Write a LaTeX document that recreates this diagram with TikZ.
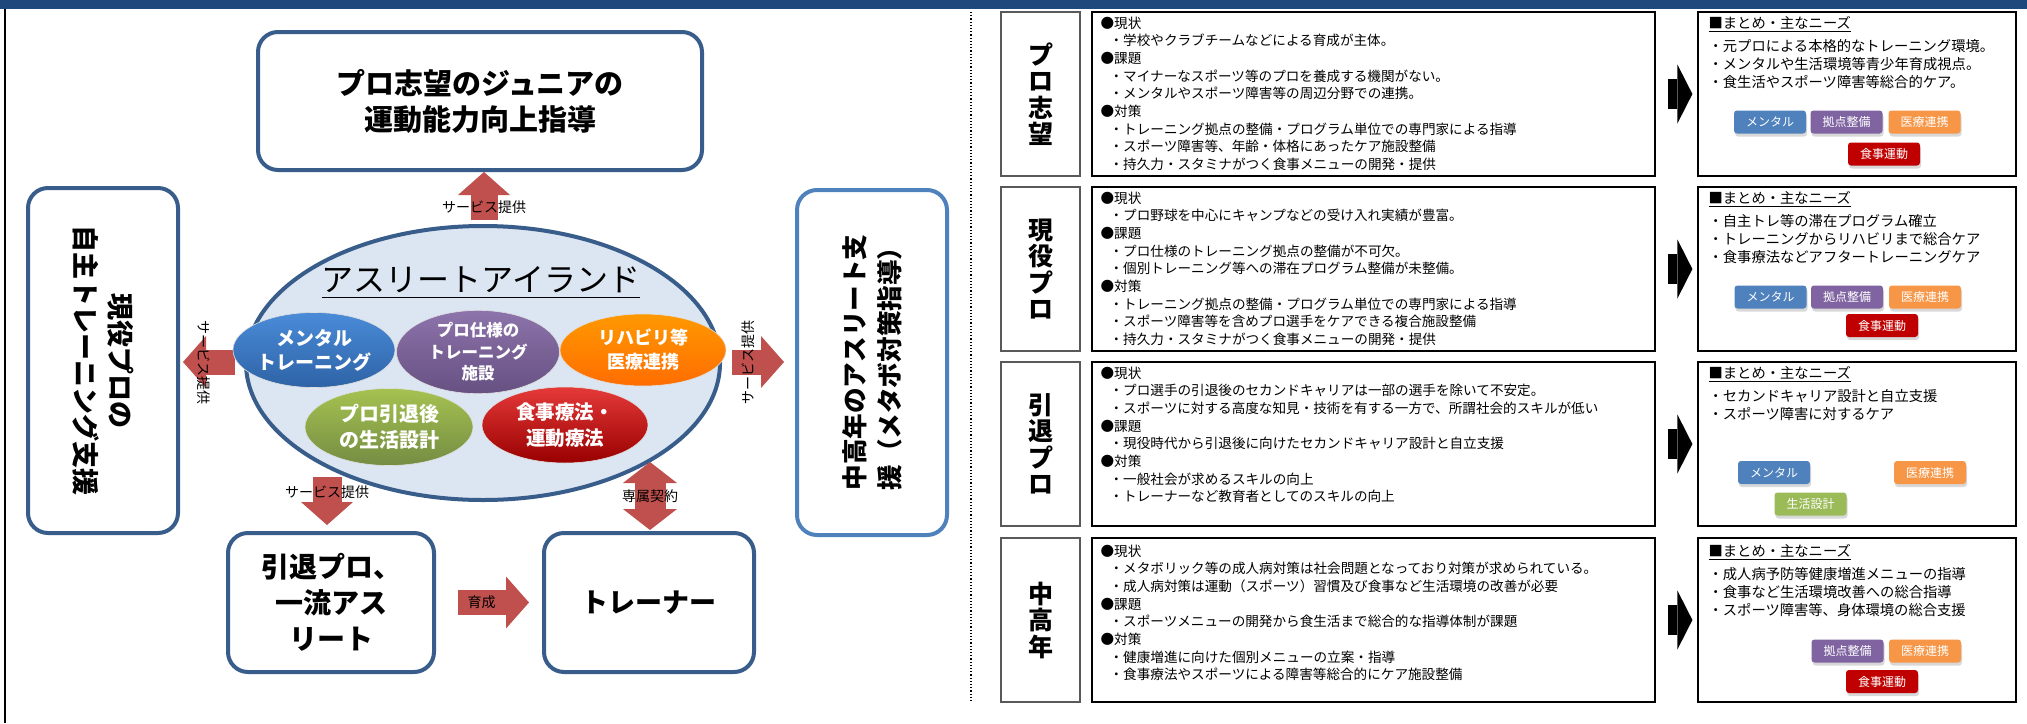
\documentclass[tikz,border=0pt]{standalone}
\usepackage{fontspec}
\setmainfont{Noto Sans CJK JP}
\usetikzlibrary{shapes.geometric,arrows.meta,shadows}

\definecolor{barblue}{HTML}{1F497D}
\definecolor{boxblue}{HTML}{385D8A}
\definecolor{lineblue}{HTML}{4F81BD}
\definecolor{islandfill}{HTML}{DCE6F2}
\definecolor{arrowred}{HTML}{C0504D}
\definecolor{tagblue}{HTML}{4F81BD}
\definecolor{tagpurple}{HTML}{8064A2}
\definecolor{tagorange}{HTML}{F79646}
\definecolor{tagred}{HTML}{C00000}
\definecolor{taggreen}{HTML}{9BBB59}
\definecolor{mentaltop}{HTML}{4A8BD8}
\definecolor{mentalbot}{HTML}{2E63A6}

\newcommand{\itm}{\hspace*{9pt}}

\tikzset{
  roundbox/.style={draw=boxblue, line width=4pt, rounded corners=20pt, fill=white, align=center, inner sep=0pt},
  bubble/.style={ellipse, draw=white!75!gray, line width=0.6pt, text=white, align=center, inner sep=0pt},
  redarrow/.style={draw=arrowred, line width=27pt, -{Triangle[width=52pt,length=23pt,line width=0pt]}},
  redboth/.style={draw=arrowred, line width=31pt, {Triangle[width=54pt,length=21pt,line width=0pt]}-{Triangle[width=54pt,length=21pt,line width=0pt]}},
  blackarrow/.style={draw=black, line width=30pt, -{Triangle[width=59pt,length=15pt,line width=0pt]}},
  svclabel/.style={text=black, inner sep=0pt, font=\fontsize{14}{14}\selectfont},
  labbox/.style={draw=black!65, line width=1.5pt, minimum width=79pt, minimum height=164pt},
  infobox/.style={draw=black, line width=1.2pt, minimum width=563pt, minimum height=164pt},
  sumbox/.style={draw=black, line width=1.2pt, minimum width=318pt, minimum height=164pt},
  labtext/.style={align=center, inner sep=0pt, font=\bfseries\fontsize{25}{26.5}\selectfont},
  infotext/.style={anchor=north west, align=left, inner sep=0pt, font=\fontsize{13.6}{17.7}\selectfont},
  sumtext/.style={anchor=north west, align=left, inner sep=0pt, font=\fontsize{14.3}{18}\selectfont},
  tag/.style={rounded corners=3pt, minimum width=72pt, minimum height=23pt, inner sep=0pt, text=white,
    font=\fontsize{12}{12}\selectfont, drop shadow={shadow xshift=1pt, shadow yshift=-3pt, opacity=0.3}}
}

\begin{document}
\begin{tikzpicture}[x=1pt,y=-1pt]
  \useasboundingbox (0,0) rectangle (2027,723);
  \fill[white] (0,0) rectangle (2027,723);
  \fill[barblue] (0,0) rectangle (2027,9);
  \draw[line width=1.5pt] (5,9) -- (5,723);
  \draw[dotted, line width=1.2pt] (971,12) -- (971,702);

  % left half: the island and its users
  \node[roundbox, minimum width=444pt, minimum height=138pt, font=\bfseries\fontsize{29}{36}\selectfont] (junior) at (480,101) {プロ志望のジュニアの\\運動能力向上指導};
  \node[roundbox, minimum width=150pt, minimum height=345pt] (pro) at (103,360.5) {};
  \node[rotate=-90, align=center, font=\bfseries\fontsize{27}{35}\selectfont] (protext) at (pro) {現役プロの\\自主トレーニング支援};
  \node[roundbox, draw=lineblue, minimum width=150pt, minimum height=345pt] (midage) at (872,362.5) {};
  \node[rotate=90, align=left, font=\bfseries\fontsize{25.6}{35}\selectfont] (midtext) at (midage) {中高年のアスリート支\\援（メタボ対策指導）};
  \node[roundbox, minimum width=206pt, minimum height=139pt, font=\bfseries\fontsize{28}{36}\selectfont] (retired) at (331,602.5) {引退プロ、\\一流アス\\リート};
  \node[roundbox, minimum width=210pt, minimum height=139pt, font=\bfseries\fontsize{27}{27}\selectfont] (trainer) at (649,602.5) {トレーナー};

  \node[ellipse, draw=boxblue, line width=4pt, fill=islandfill, minimum width=474pt, minimum height=274pt] (island) at (483,363) {};
  \node[inner sep=0pt, font=\fontsize{32}{32}\selectfont] (title) at (481,280) {アスリートアイランド};
  \draw[line width=1.5pt] ([yshift=-4pt]title.south west) -- ([yshift=-4pt]title.south east);

  \coordinate (svcup) at (484,220);
  \coordinate (svcleft) at (235,362);
  \coordinate (svcright) at (732,362);
  \coordinate (svcdown) at (327,477);
  \coordinate (contract) at (650,462);
  \draw[redarrow] (svcup) -- node[pos=0.26, svclabel] {サービス提供} (svcup |- junior.south);
  \draw[redarrow, line width=25pt, shorten >=3pt] (svcleft) -- node[pos=0.56, rotate=-90, svclabel] {サービス提供} (svcleft -| pro.east);
  \draw[redarrow, line width=25pt, shorten >=11pt] (svcright) -- node[pos=0.26, rotate=90, svclabel] {サービス提供} (svcright -| midage.west);
  \draw[redarrow, line width=29pt, shorten >=6pt] (svcdown) -- node[pos=0.29, svclabel] {サービス提供} (svcdown |- retired.north);
  \draw[redboth, shorten >=1pt] (contract) -- node[midway, svclabel] {専属契約} (contract |- trainer.north);
  \draw[redarrow, line width=25pt, shorten <=22pt, shorten >=13pt] (retired.east) -- node[pos=0.43, svclabel] {育成} (trainer.west);

  \node[bubble, top color=mentaltop, bottom color=mentalbot, minimum width=162pt, minimum height=75pt, font=\bfseries\fontsize{19}{24}\selectfont] (mental) at (314,350) {メンタル\\トレーニング};
  \node[bubble, top color=tagpurple!90!white, bottom color=tagpurple!80!black, minimum width=163pt, minimum height=77pt, font=\bfseries\fontsize{16.5}{21.5}\selectfont] (facility) at (478,352) {プロ仕様の\\トレーニング\\施設};
  \node[bubble, top color=orange!80!yellow, bottom color=orange!85!red, minimum width=166pt, minimum height=72pt, font=\bfseries\fontsize{18}{24}\selectfont] (rehab) at (643,350) {リハビリ等\\医療連携};
  \node[bubble, top color=taggreen!90!yellow, bottom color=taggreen!75!black, minimum width=168pt, minimum height=77pt, font=\bfseries\fontsize{20}{26}\selectfont] (career) at (389,427) {プロ引退後\\の生活設計};
  \node[bubble, top color=red!75!white!90!black, bottom color=red!60!black, minimum width=166pt, minimum height=76pt, font=\bfseries\fontsize{19.5}{26}\selectfont] (diet) at (565,425) {食事療法・\\運動療法};

  % right half: needs per target group
  \foreach \r/\yc in {1/94,2/269,3/444,4/620} {
    \node[labbox] (lab\r) at (1040.5,\yc) {};
    \node[infobox] (info\r) at (1373.5,\yc) {};
    \node[sumbox] (sum\r) at (1857,\yc) {};
    \draw[blackarrow, shorten <=12pt, shorten >=5pt] (info\r.east) -- (sum\r.west);
  }

  \node[labtext] (lab1t) at (lab1) {プ\\ロ\\志\\望};
  \node[infotext] (info1t) at ([shift={(9,5)}]info1.north west) {●現状\\
    \itm・学校やクラブチームなどによる育成が主体。\\
    ●課題\\
    \itm・マイナーなスポーツ等のプロを養成する機関がない。\\
    \itm・メンタルやスポーツ障害等の周辺分野での連携。\\
    ●対策\\
    \itm・トレーニング拠点の整備・プログラム単位での専門家による指導\\
    \itm・スポーツ障害等、年齢・体格にあったケア施設整備\\
    \itm・持久力・スタミナがつく食事メニューの開発・提供};
  \node[sumtext] (sum1t) at ([shift={(11,5)}]sum1.north west) {\underline{■まとめ・主なニーズ}\\[5pt]
    ・元プロによる本格的なトレーニング環境。\\
    ・メンタルや生活環境等青少年育成視点。\\
    ・食生活やスポーツ障害等総合的ケア。};
  \node[tag, fill=tagblue] (tag1a) at (1770,122) {メンタル};
  \node[tag, fill=tagpurple] (tag1b) at (1846.5,122) {拠点整備};
  \node[tag, fill=tagorange] (tag1c) at (1924.5,122) {医療連携};
  \node[tag, fill=tagred] (tag1d) at (1884,154) {食事運動};

  \node[labtext] (lab2t) at (lab2) {現\\役\\プ\\ロ};
  \node[infotext] (info2t) at ([shift={(9,5)}]info2.north west) {●現状\\
    \itm・プロ野球を中心にキャンプなどの受け入れ実績が豊富。\\
    ●課題\\
    \itm・プロ仕様のトレーニング拠点の整備が不可欠。\\
    \itm・個別トレーニング等への滞在プログラム整備が未整備。\\
    ●対策\\
    \itm・トレーニング拠点の整備・プログラム単位での専門家による指導\\
    \itm・スポーツ障害等を含めプロ選手をケアできる複合施設整備\\
    \itm・持久力・スタミナがつく食事メニューの開発・提供};
  \node[sumtext] (sum2t) at ([shift={(11,5)}]sum2.north west) {\underline{■まとめ・主なニーズ}\\[5pt]
    ・自主トレ等の滞在プログラム確立\\
    ・トレーニングからリハビリまで総合ケア\\
    ・食事療法などアフタートレーニングケア};
  \node[tag, fill=tagblue] (tag2a) at (1770.5,297) {メンタル};
  \node[tag, fill=tagpurple] (tag2b) at (1847,297) {拠点整備};
  \node[tag, fill=tagorange] (tag2c) at (1925,297) {医療連携};
  \node[tag, fill=tagred] (tag2d) at (1882,325.5) {食事運動};

  \node[labtext] (lab3t) at (lab3) {引\\退\\プ\\ロ};
  \node[infotext] (info3t) at ([shift={(9,5)}]info3.north west) {●現状\\
    \itm・プロ選手の引退後のセカンドキャリアは一部の選手を除いて不安定。\\
    \itm・スポーツに対する高度な知見・技術を有する一方で、所謂社会的スキルが低い\\
    ●課題\\
    \itm・現役時代から引退後に向けたセカンドキャリア設計と自立支援\\
    ●対策\\
    \itm・一般社会が求めるスキルの向上\\
    \itm・トレーナーなど教育者としてのスキルの向上};
  \node[sumtext] (sum3t) at ([shift={(11,5)}]sum3.north west) {\underline{■まとめ・主なニーズ}\\[5pt]
    ・セカンドキャリア設計と自立支援\\
    ・スポーツ障害に対するケア};
  \node[tag, fill=tagblue] (tag3a) at (1774,472.5) {メンタル};
  \node[tag, fill=tagorange] (tag3b) at (1930,472.5) {医療連携};
  \node[tag, fill=taggreen] (tag3c) at (1810.5,504) {生活設計};

  \node[labtext] (lab4t) at (lab4) {中\\高\\年};
  \node[infotext] (info4t) at ([shift={(9,7)}]info4.north west) {●現状\\
    \itm・メタボリック等の成人病対策は社会問題となっており対策が求められている。\\
    \itm・成人病対策は運動（スポーツ）習慣及び食事など生活環境の改善が必要\\
    ●課題\\
    \itm・スポーツメニューの開発から食生活まで総合的な指導体制が課題\\
    ●対策\\
    \itm・健康増進に向けた個別メニューの立案・指導\\
    \itm・食事療法やスポーツによる障害等総合的にケア施設整備};
  \node[sumtext] (sum4t) at ([shift={(11,7)}]sum4.north west) {\underline{■まとめ・主なニーズ}\\[5pt]
    ・成人病予防等健康増進メニューの指導\\
    ・食事など生活環境改善への総合指導\\
    ・スポーツ障害等、身体環境の総合支援};
  \node[tag, fill=tagpurple] (tag4a) at (1847.5,651) {拠点整備};
  \node[tag, fill=tagorange] (tag4b) at (1925,651) {医療連携};
  \node[tag, fill=tagred] (tag4c) at (1882,681.5) {食事運動};
\end{tikzpicture}
\end{document}
